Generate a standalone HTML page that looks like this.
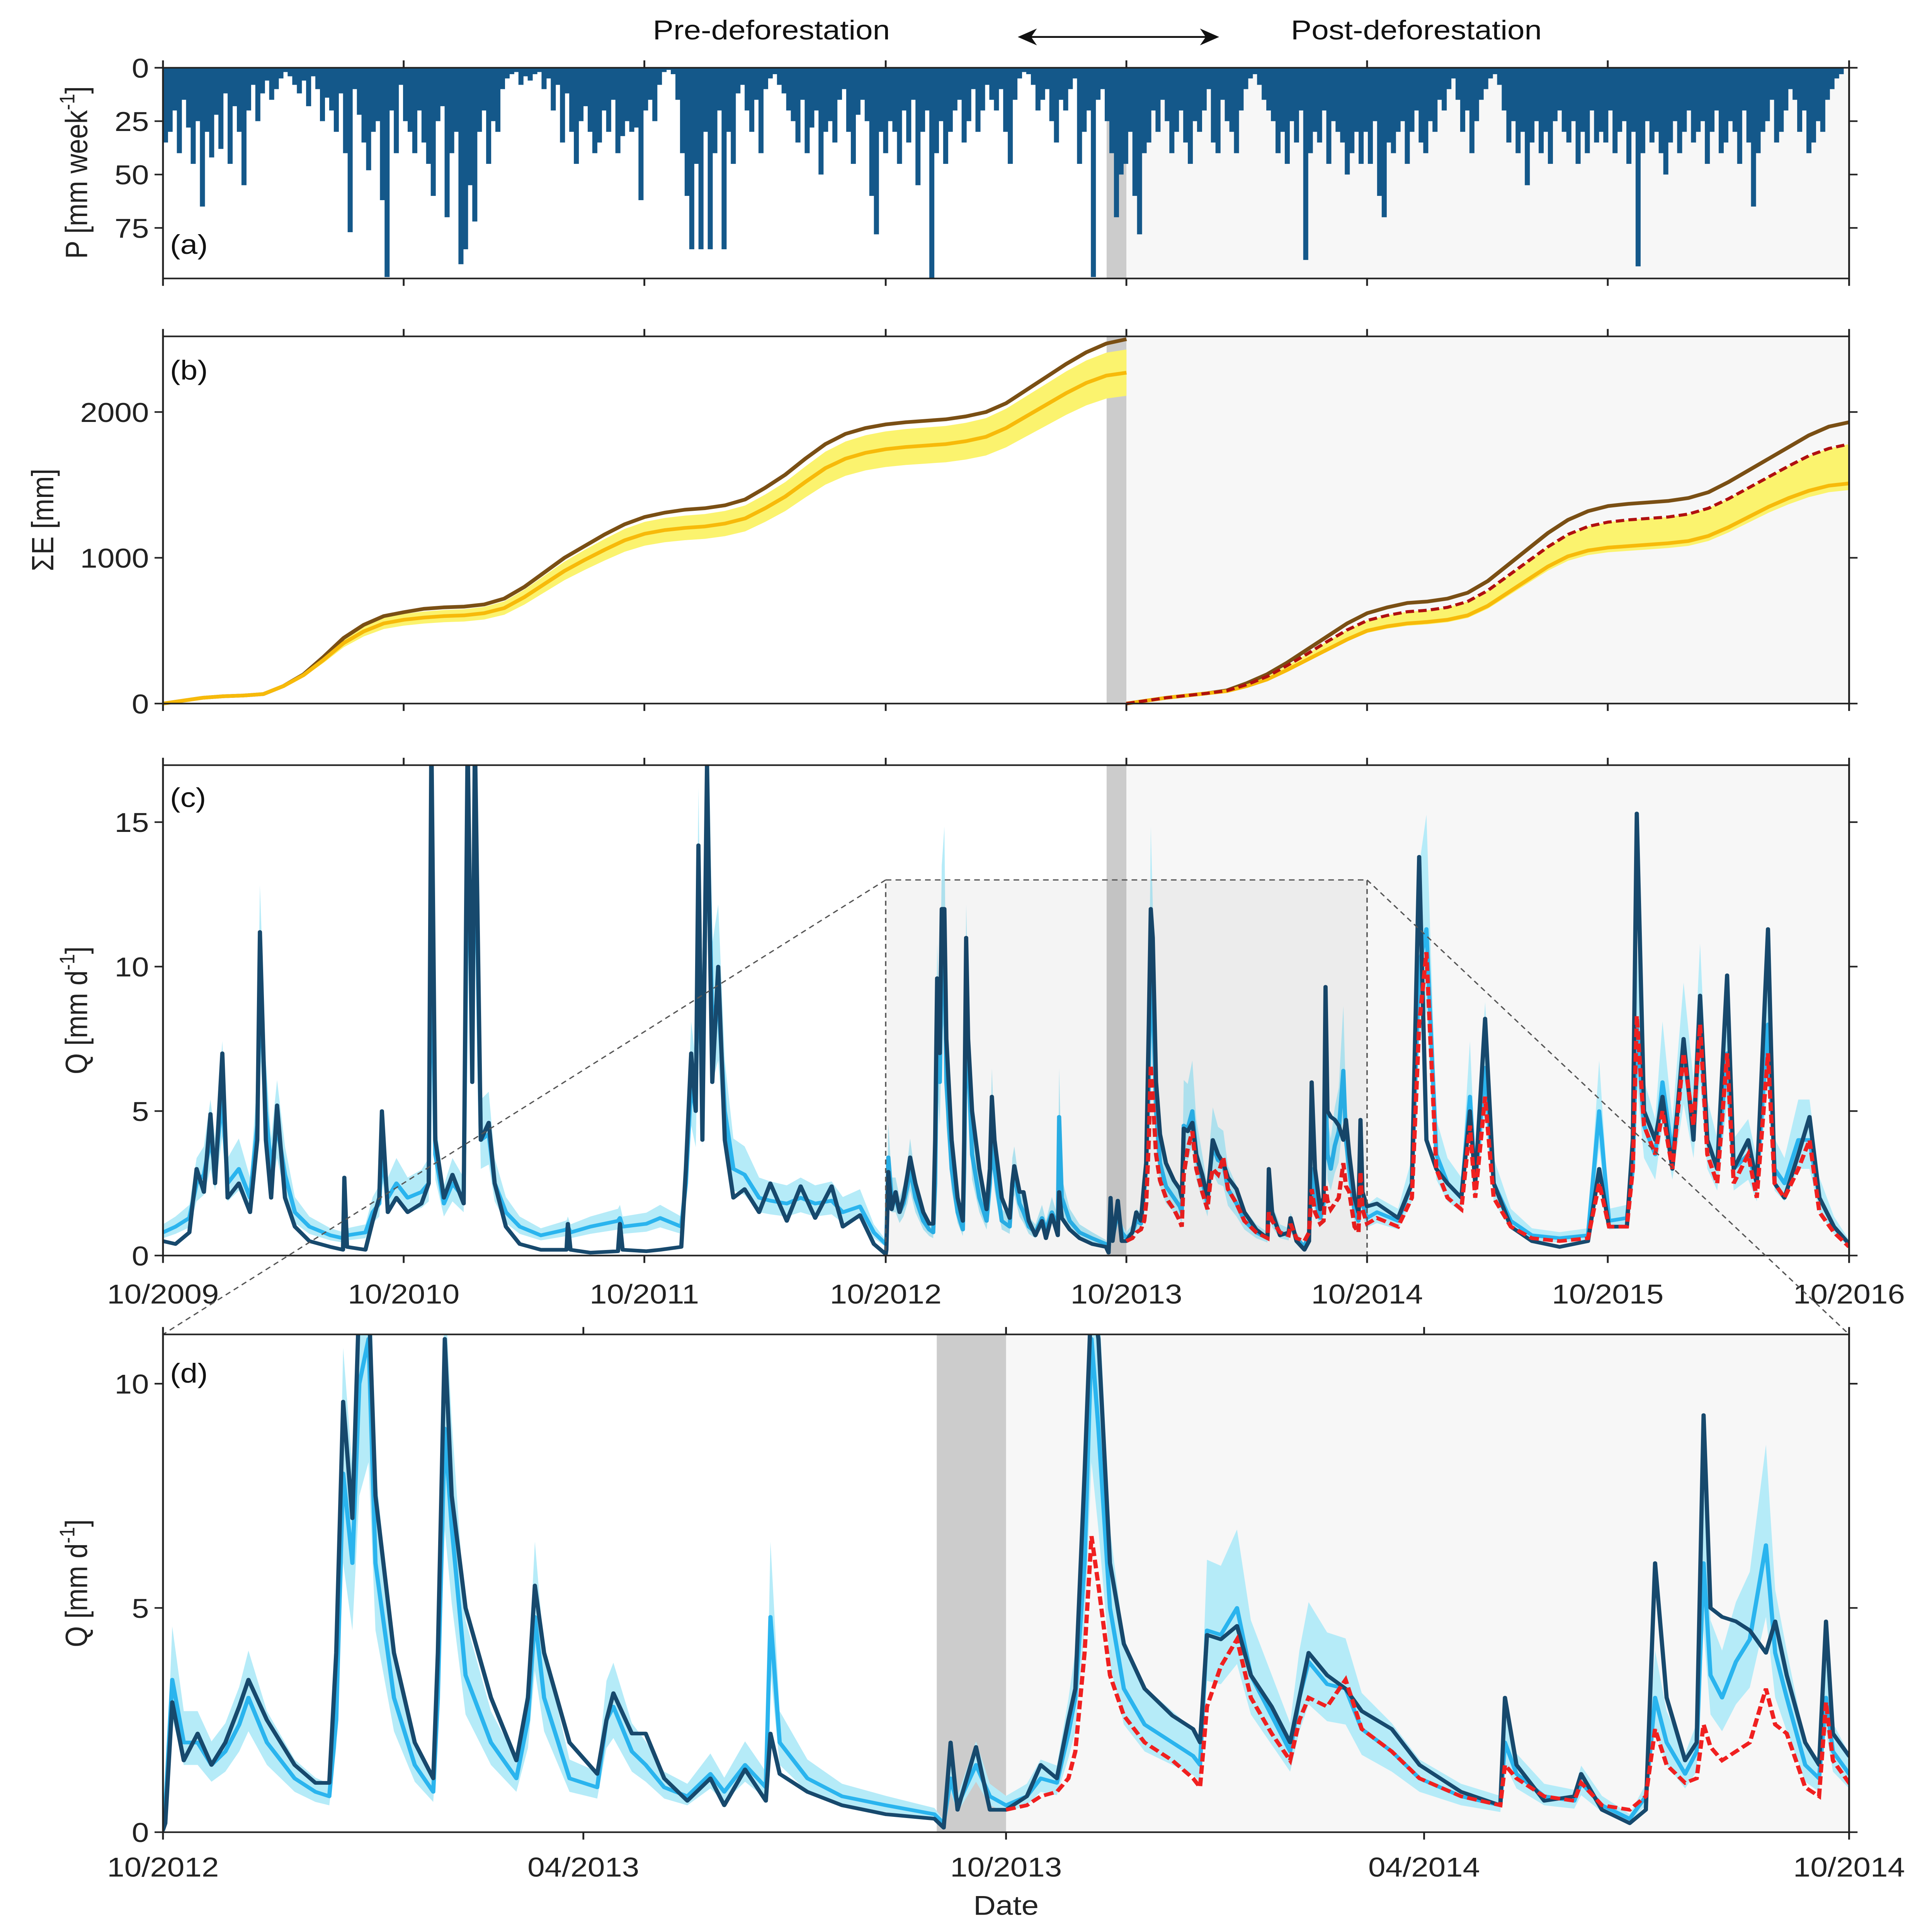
<!DOCTYPE html>
<html><head><meta charset="utf-8"><style>
html,body{margin:0;padding:0;background:#fff;width:100%;height:100%;overflow:hidden;}
svg{display:block;position:absolute;left:0;top:0;width:100vw;height:100vh;font-family:"Liberation Sans",Arial,sans-serif;}
</style></head><body>
<svg id="fig" viewBox="0 0 1375 1568" preserveAspectRatio="none" xmlns="http://www.w3.org/2000/svg">
<text x="549" y="32" font-size="22" text-anchor="middle" fill="#111">Pre-deforestation</text>
<text x="1008" y="32" font-size="22" text-anchor="middle" fill="#111">Post-deforestation</text>
<g stroke="#111" stroke-width="1.5" fill="#111">
<line x1="729" y1="30" x2="863" y2="30"/>
<path d="M726,30 l10,-5 l-3,5 l3,5z"/><path d="M866,30 l-10,-5 l3,5 l-3,5z"/>
</g>
<g id="root"></g>
</svg>
<script>
// ---------- DATA ----------
const precipWeekly = [
35,30,20,40,15,28,45,25,65,30,42,22,38,12,45,18,30,55,20,8,25,12,6,15,10,5,2,4,8,12,6,18,4,10,25,14,20,30,12,40,77,10,22,35,48,30,25,62,98,20,40,8,
25,30,40,20,35,45,60,25,18,70,40,30,92,85,55,72,30,20,45,25,30,10,5,3,2,8,4,6,3,2,10,5,20,8,35,12,30,45,25,18,30,40,35,20,30,15,40,32,25,30,28,62,
20,15,25,8,2,1,3,15,40,60,85,45,85,30,85,40,20,85,30,45,12,8,20,30,15,40,10,5,3,8,12,20,25,35,15,40,28,20,50,30,25,35,15,10,30,45,22,15,25,60,78,30,
40,25,30,45,20,35,15,55,30,20,100,40,25,45,30,20,15,35,25,10,30,20,8,15,20,10,30,45,15,5,2,3,8,20,15,10,25,35,15,20,10,5,45,30,20,98,15,10,25,40,70,50,
45,30,60,78,40,35,20,30,15,25,40,30,20,35,45,25,30,20,10,35,40,15,25,30,40,20,10,5,3,8,15,20,25,40,30,45,25,35,20,90,40,30,35,20,45,25,30,35,50,40,30,45,
30,45,25,60,70,35,40,30,25,45,30,20,35,40,25,30,15,20,10,5,15,30,20,40,25,15,10,5,3,8,20,35,25,40,30,55,35,25,40,30,45,25,20,30,35,25,45,30,40,20,35,30,
35,20,40,30,25,45,30,93,40,25,35,30,40,50,35,25,40,30,20,35,30,25,45,30,20,40,35,25,30,45,20,35,65,40,30,25,15,35,30,20,10,15,30,20,40,35,25,30,15,10,5,3];

const ePreBrown = [0,20,40,50,55,65,120,200,320,450,540,600,627,650,660,665,680,720,800,900,1000,1080,1160,1230,1280,1310,1330,1340,1360,1400,1480,1570,1680,1780,1850,1890,1915,1930,1940,1950,1970,2000,2060,2150,2240,2330,2410,2470,2500];
const ePreYellow = [0,20,40,50,55,65,120,195,300,415,495,550,575,590,600,605,620,655,730,820,910,985,1055,1120,1165,1190,1205,1215,1235,1270,1340,1420,1520,1615,1680,1720,1745,1760,1770,1780,1800,1830,1890,1970,2050,2130,2200,2250,2270];
const ePostBrown = [0,20,40,55,70,90,140,200,280,370,460,550,620,660,690,700,720,760,840,950,1060,1170,1260,1320,1355,1370,1380,1390,1410,1450,1520,1600,1680,1760,1840,1900,1930];
const ePostRed = [0,20,40,55,70,88,130,185,260,340,425,505,570,605,630,640,660,700,775,875,975,1075,1160,1215,1245,1260,1270,1280,1300,1340,1405,1480,1555,1630,1700,1750,1780];
const ePostYellow = [0,20,40,55,70,85,120,165,230,300,370,440,500,530,550,560,575,605,670,760,850,940,1010,1050,1070,1080,1090,1100,1115,1150,1210,1280,1350,1410,1460,1495,1510];

const qDay = [0,19,40,51,62,72,79,90,98,115,132,143,147,156,164,173,185,200,222,254,273,275,279,307,318,328,332,341,354,371,392,403,407,413,426,439,456,462,469,473,482,494,503,520,541,573,612,614,618,648,690,693,697,733,754,786,793,801,808,812,818,825,833,842,852,865,882,904,921,946,967,989,1014,1031,1057,1078,1096,
1097,1100,1105,1111,1117,1123,1129,1133,1141,1153,1162,1168,1171,1174,1178,1181,1185,1188,1196,1205,1213,1215,1218,1221,1227,1238,1249,1254,1257,1261,1272,1284,1288,1291,1299,1305,1313,1323,1333,1339,1348,1357,1359,1363,1375,1390,1409,1430,1434,1437,1440,1448,1454,
1461,1470,1476,1483,1488,1491,1495,1498,1501,1506,1512,1521,1533,1542,1545,1548,1554,1561,1567,1576,1584,1588,1592,1600,1608,1615,1628,1640,1658,1675,1677,1682,1694,1707,1710,1719,1731,1738,1742,1747,1755,1760,1763,1766,1771,1777,1783,1790,1794,1799,1807,1813,1816,1819,1826,
1841,1873,1894,1905,1916,1931,1948,1969,1982,1990,2005,2018,2044,2076,2118,2161,2178,2193,2220,2229,2235,2246,2263,2274,2289,2306,2321,2331,2342,2357,2372,2382,2404,2417,2434,2444,2459,2480,2497,2512,2534,2557];
const qObs = [0.5,0.4,0.8,3.0,2.2,4.9,2.5,7.0,2.0,2.5,1.5,4.0,11.2,4.0,2.0,5.2,2.0,1.0,0.5,0.3,0.2,2.7,0.3,0.2,1.2,2.0,5.0,1.5,2.0,1.5,1.8,2.5,18,4.0,2.0,2.8,1.8,18,6,18,4,4.6,2.5,1.0,0.4,0.2,0.2,1.1,0.2,0.1,0.15,1.1,0.2,0.15,0.2,0.3,3.0,7.0,5.0,14.2,4.0,17.0,6.0,10.0,4.0,2.0,2.3,1.5,2.5,1.2,2.4,1.3,2.4,1.0,1.4,0.4,0.05,
0.2,2.9,1.6,2.2,1.5,2.0,2.8,3.4,2.5,1.5,1.1,1.1,4.0,9.6,7.0,12,12,7.5,4.0,2.0,1.2,4.0,11,7.5,5.0,3.0,1.6,3.0,5.5,4.0,2.0,1.3,2.5,3.1,2.2,2.2,1.2,0.7,1.2,0.6,1.4,0.7,2.2,1.3,0.9,0.6,0.4,0.3,0.1,2.0,0.5,1.9,0.5,
0.5,0.8,1.5,1.2,2.5,3.2,8,12,11,6,4.2,3.2,2.6,2.3,2.0,4.4,4.3,4.6,3.5,2.8,2.0,3.0,4.0,3.5,3.2,2.7,2.3,1.5,0.9,0.6,3.0,1.5,0.7,0.8,1.3,0.5,0.2,0.5,6.0,3.0,1.6,2.0,9.3,5.0,4.8,4.7,4.5,4.0,4.7,3.5,2.0,1.5,4.7,2.2,1.7,
1.8,1.3,2.5,13.8,4.0,3.0,2.5,2.0,5.0,2.5,8.2,2.5,1.0,0.5,0.3,0.5,3.0,1.0,1.0,4.0,15.3,5.0,4.0,5.5,3.0,7.5,4.0,9.0,4.0,3.0,9.7,3.0,4.0,2.5,11.3,2.5,2.0,3.5,4.8,2.0,1.0,0.4];
const qMod = [0.8,1.0,1.3,2.5,2.8,4.0,3.0,5.5,2.5,3.0,2.0,4.5,9.5,5.0,3.0,4.5,2.8,1.5,1.0,0.7,0.6,1.5,0.7,0.8,1.5,1.8,3.5,2.0,2.5,2.0,2.2,2.5,13,3.5,1.8,2.5,2.0,15,8,16,4,4.2,2.5,1.5,1.0,0.7,0.9,1.0,0.8,1.0,1.2,1.3,1.0,1.1,1.3,1.0,2.5,6.0,5.0,12,5.0,16,8.0,9.0,5.0,3.0,2.8,2.0,1.9,1.8,2.0,1.8,1.9,1.5,1.7,0.8,0.4,
0.5,3.4,2.0,2.0,1.5,1.8,2.4,3.0,2.0,1.2,0.9,0.8,2.5,8.0,6.0,10,11,6.0,3.0,1.5,0.9,3.0,9,6.8,3.5,2.0,1.2,2.5,4.8,3.0,1.2,1.0,2.5,2.8,1.8,1.5,1.0,0.8,1.3,0.9,1.5,1.0,4.8,2.0,1.2,0.8,0.6,0.4,0.2,1.2,0.6,1.5,0.8,
0.6,0.8,1.2,1.1,2.2,3.0,6,11,9,5,3.2,2.4,2.0,1.7,1.5,4.5,4.4,5.0,3.5,2.6,1.8,3.0,3.8,3.3,3.2,2.3,1.8,1.2,0.8,0.6,2.0,1.3,0.8,0.7,1.1,0.6,0.3,0.8,3.0,2.0,1.3,1.8,6.0,3.5,3.0,3.8,4.3,6.4,4.0,3.0,1.5,1.2,3.0,1.8,1.3,
1.5,1.2,2.5,10,11.3,3.5,2.5,2.0,5.5,2.5,6.5,2.5,1.2,0.7,0.6,0.7,5.0,1.2,1.3,3.0,8,4.5,3.5,6.0,3.5,7.0,4.5,8.0,4.0,3.0,7.0,3.0,3.5,2.5,8,3.0,2.5,4.0,4.0,2.0,1.0,0.4];
const qSim = [null,null,null,null,null,null,null,null,null,null,null,null,null,null,null,null,null,null,null,null,null,null,null,null,null,null,null,null,null,null,null,null,null,null,null,null,null,null,null,null,null,null,null,null,null,null,null,null,null,null,null,null,null,null,null,null,null,null,null,null,null,null,null,null,null,null,null,null,null,null,null,null,null,null,null,null,null,
null,null,null,null,null,null,null,null,null,null,null,null,null,null,null,null,null,null,null,null,null,null,null,null,null,null,null,null,null,null,null,null,null,null,null,null,null,null,null,null,null,null,null,null,null,null,null,null,null,null,null,null,null,
0.5,0.6,0.8,0.9,1.2,1.8,4,6.6,5.5,3.5,2.6,2.0,1.6,1.2,1.0,2.8,3.7,4.3,3.0,2.2,1.6,2.5,3.0,2.8,3.4,2.3,1.8,1.2,0.8,0.6,1.5,1.2,0.8,0.7,1.1,0.6,0.5,0.8,2.3,1.5,1.1,1.2,2.4,1.9,1.6,1.8,2.0,3.2,2.4,2.2,1.0,0.8,2.9,1.6,1.1,
1.3,1.0,2.0,8,10.5,3.0,2.0,1.6,4.5,2.0,5.5,2.0,1.0,0.6,0.5,0.6,2.5,1.0,1.0,3.0,8.3,4.5,3.5,5.0,3.0,7.0,4.5,8.0,3.5,2.5,7.0,2.5,3.5,2.0,7.0,2.5,2.0,3.0,4.0,1.5,0.8,0.3];
const bandLoFactor = 0.75, bandHiFactor = 1.35;

const yearTicks = ['10/2009','10/2010','10/2011','10/2012','10/2013','10/2014','10/2015','10/2016'];
const yearTickDays = [0,365,730,1096,1461,1826,2191,2557];
const dTicks = ['10/2012','04/2013','10/2013','04/2014','10/2014'];
const dTickDays = [1096,1278,1461,1642,1826];

// ---------- HELPERS ----------
const NS='http://www.w3.org/2000/svg';
const root=document.getElementById('root');
function el(tag,attrs,parent){const e=document.createElementNS(NS,tag);for(const k in attrs)e.setAttribute(k,attrs[k]);(parent||root).appendChild(e);return e;}
const L=116,R=1316;
const Xc=d=>L+d*(R-L)/2557;
const Xd=d=>L+(d-1096)*(R-L)/730;
const Ya=v=>55+v*1.733;
const Yb=v=>571-v*0.1183;
const Yc=v=>1019-v*23.45;
const Yd=v=>1487-v*36.4;
const BLUE='#14588a', OBS='#17496d', MOD='#2ab4ee', BAND='#b5ebf8', RED='#f02020', BROWN='#7a4f14', YEL='#f7ba0a', YBAND='#fbf36e';
function pathFrom(xs,ys){let s='';let pen=false;for(let i=0;i<xs.length;i++){if(ys[i]==null){pen=false;continue;}s+=(pen?'L':'M')+xs[i].toFixed(2)+','+ys[i].toFixed(2);pen=true;}return s;}
function frame(top,bot,name){
  el('rect',{x:L,y:top,width:R-L,height:bot-top,fill:'none',stroke:'#222','stroke-width':1.3,});
}
function yTicks(vals,Y,top,bot,name){
  const g=el('g',{});
  vals.forEach(v=>{const y=Y(v);
    el('line',{x1:L-6,x2:L,y1:y,y2:y,stroke:'#222','stroke-width':1.3},g);
    el('line',{x1:R,x2:R+6,y1:y,y2:y,stroke:'#222','stroke-width':1.3},g);
    const t=el('text',{x:L-10,y:y+8,'font-size':22,'text-anchor':'end',fill:'#222'},g);t.textContent=v;});
}
function xTicks(days,X,top,bot){
  days.forEach(d=>{const x=X(d);
    el('line',{x1:x,x2:x,y1:bot,y2:bot+6,stroke:'#222','stroke-width':1.3});
    el('line',{x1:x,x2:x,y1:top-6,y2:top,stroke:'#222','stroke-width':1.3});});
}
function panelLabel(txt,x,y,name){const t=el('text',{x:x,y:y,'font-size':22,fill:'#111',});t.textContent=txt;}
function ylabel(x,y,main,sup,tail,name){
  const t=el('text',{transform:`translate(${x},${y}) rotate(-90)`,'font-size':22,'text-anchor':'middle',fill:'#222',});
  const a=el('tspan',{},t);a.textContent=main;
  if(sup){const s=el('tspan',{dy:-9,'font-size':15},t);s.textContent=sup;const b=el('tspan',{dy:9},t);b.textContent=tail;}
}
function clip(id,top,bot){const c=el('clipPath',{id:id});el('rect',{x:L,y:top,width:R-L,height:bot-top},c);}
function bgs(top,bot,X,name){
  el('rect',{x:X(1461),y:top,width:R-X(1461),height:bot-top,fill:'#f7f7f7',});
  el('rect',{x:X(1431),y:top,width:X(1461)-X(1431),height:bot-top,fill:'#cccccc',});
}

// ---------- PANEL A ----------
(function(){
  const top=55,bot=226;
  bgs(top,bot,Xc,'panel-a');
  const g=el('g',{});
  const wk=(R-L)/365.25;
  precipWeekly.forEach((v,i)=>{
    const b=el('rect',{x:L+i*wk,y:top,width:wk+0.3,height:Math.min(Ya(v),bot)-top,fill:BLUE},g);
    
    
  });
  frame(top,bot,'panel-a-frame');
  yTicks([0,25,50,75],Ya,top,bot,'panel-a-y-ticks');
  xTicks(yearTickDays,Xc,top,bot);
  panelLabel('(a)',121,206,'panel-a-label');
  ylabel(62,140,'P [mm week','-1',']','panel-a-y-title');
})();

// ---------- PANEL B ----------
(function(){
  const top=273,bot=571;
  bgs(top,bot,Xc,'panel-b');
  const mx=(R-L)/84;
  const xsPre=ePreBrown.map((v,i)=>L+i*mx);
  const xsPost=ePostBrown.map((v,i)=>Xc(1461)+i*mx);
  const hi=ePreYellow.map(v=>Yb(v*1.07)), lo=ePreYellow.map(v=>Yb(v*0.93));
  let d='M'+xsPre.map((x,i)=>x+','+hi[i]).join('L')+'L'+xsPre.slice().reverse().map((x,i)=>x+','+lo[lo.length-1-i]).join('L')+'Z';
  el('path',{d:d,fill:YBAND,});
  const hi2=ePostRed.map(v=>Yb(v)), lo2=ePostYellow.map(v=>Yb(v*0.97));
  d='M'+xsPost.map((x,i)=>x+','+hi2[i]).join('L')+'L'+xsPost.slice().reverse().map((x,i)=>x+','+lo2[lo2.length-1-i]).join('L')+'Z';
  el('path',{d:d,fill:YBAND,});
  el('path',{d:pathFrom(xsPre,ePreBrown.map(Yb)),fill:'none',stroke:BROWN,'stroke-width':3,});
  el('path',{d:pathFrom(xsPre,ePreYellow.map(Yb)),fill:'none',stroke:YEL,'stroke-width':3,});
  el('path',{d:pathFrom(xsPost,ePostBrown.map(Yb)),fill:'none',stroke:BROWN,'stroke-width':3,});
  el('path',{d:pathFrom(xsPost,ePostYellow.map(Yb)),fill:'none',stroke:YEL,'stroke-width':3,});
  el('path',{d:pathFrom(xsPost,ePostRed.map(Yb)),fill:'none',stroke:'#b01010','stroke-width':2.5,'stroke-dasharray':'6,3',});
  frame(top,bot,'panel-b-frame');
  yTicks([0,1000,2000],Yb,top,bot,'panel-b-y-ticks');
  xTicks(yearTickDays,Xc,top,bot);
  panelLabel('(b)',121,308,'panel-b-label');
  ylabel(38,422,'ΣE [mm]',null,null,'panel-b-y-title');
})();

// ---------- Q PANELS ----------
function qPanel(top,bot,X,Y,clipId,name){
  clip(clipId,top,bot);
  const g=el('g',{'clip-path':`url(#${clipId})`,});
  const xs=qDay.map(X);
  const hi=qMod.map(v=>Y(v*bandHiFactor)), lo=qMod.map(v=>Y(v*bandLoFactor));
  let d='M'+xs.map((x,i)=>x.toFixed(2)+','+hi[i].toFixed(2)).join('L');
  for(let i=xs.length-1;i>=0;i--)d+='L'+xs[i].toFixed(2)+','+lo[i].toFixed(2);
  el('path',{d:d+'Z',fill:BAND,},g);
  el('path',{d:pathFrom(xs,qMod.map(Y)),fill:'none',stroke:MOD,'stroke-width':3,'stroke-linejoin':'round',},g);
  el('path',{d:pathFrom(xs,qObs.map(Y)),fill:'none',stroke:OBS,'stroke-width':3,'stroke-linejoin':'round',},g);
  el('path',{d:pathFrom(xs,qSim.map(v=>v==null?null:Y(v))),fill:'none',stroke:RED,'stroke-width':3,'stroke-dasharray':'7,3',},g);
  return g;
}
// ---------- PANEL C ----------
(function(){
  const top=621,bot=1019;
  bgs(top,bot,Xc,'panel-c');
  qPanel(top,bot,Xc,Yc,'clipc','panel-c');
  el('rect',{x:Xc(1096),y:Yc(13),width:Xc(1826)-Xc(1096),height:bot-Yc(13),fill:'rgba(0,0,0,0.045)',stroke:'#555','stroke-width':1,'stroke-dasharray':'4,3',});
  frame(top,bot,'panel-c-frame');
  yTicks([0,5,10,15],Yc,top,bot,'panel-c-y-ticks');
  xTicks(yearTickDays,Xc,top,bot);
  yearTickDays.forEach((dd,i)=>{const t=el('text',{x:Xc(dd),y:1058,'font-size':22,'text-anchor':'middle',fill:'#222'});
    
    
    t.textContent=yearTicks[i];});
  panelLabel('(c)',121,655,'panel-c-label');
  ylabel(62,820,'Q [mm d','-1',']','panel-c-y-title');
  el('line',{x1:Xc(1096),y1:Yc(13),x2:L,y2:1083,stroke:'#555','stroke-width':1,'stroke-dasharray':'4,3',});
  el('line',{x1:Xc(1826),y1:Yc(13),x2:R,y2:1083,stroke:'#555','stroke-width':1,'stroke-dasharray':'4,3',});
})();
// ---------- PANEL D ----------
(function(){
  const top=1083,bot=1487;
  bgs(top,bot,Xd,'panel-d');
  qPanel(top,bot,Xd,Yd,'clipd','panel-d');
  frame(top,bot,'panel-d-frame');
  yTicks([0,5,10],Yd,top,bot,'panel-d-y-ticks');
  xTicks(dTickDays,Xd,top,bot);
  dTickDays.forEach((dd,i)=>{const t=el('text',{x:Xd(dd),y:1523,'font-size':22,'text-anchor':'middle',fill:'#222'});
    
    
    t.textContent=dTicks[i];});
  panelLabel('(d)',121,1122,'panel-d-label');
  ylabel(62,1285,'Q [mm d','-1',']','panel-d-y-title');
  const t=el('text',{x:716,y:1554,'font-size':22,'text-anchor':'middle',fill:'#222',});t.textContent='Date';
})();
</script>
</body></html>
